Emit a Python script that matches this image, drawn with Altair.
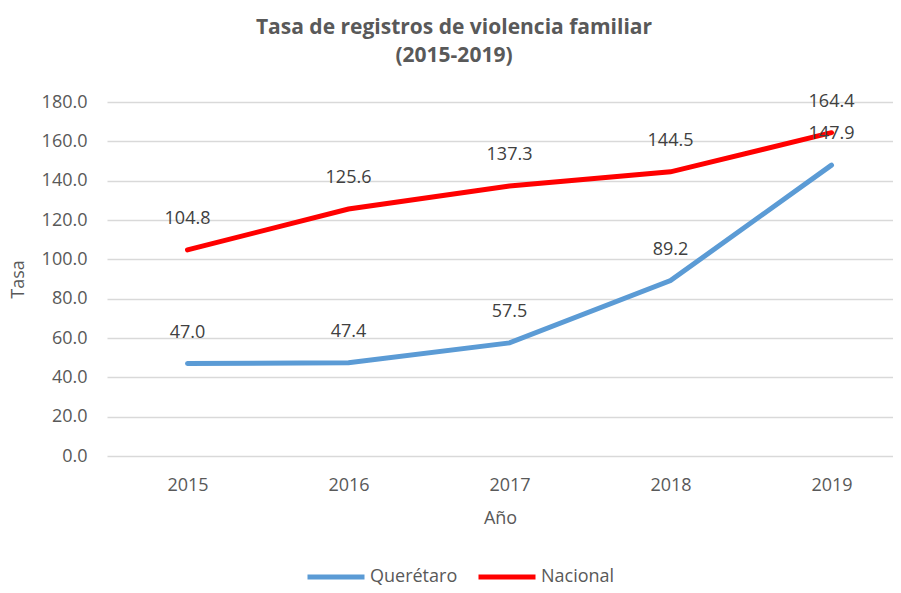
import altair as alt
import pandas as pd

years = [2015, 2016, 2017, 2018, 2019]
queretaro = [47.0, 47.4, 57.5, 89.2, 147.9]
nacional = [104.8, 125.6, 137.3, 144.5, 164.4]
series_names = ["Querétaro", "Nacional"]
series_colors = ["#5B9BD5", "#FF0000"]

rows = []
for name, vals in zip(series_names, [queretaro, nacional]):
    for yr, v in zip(years, vals):
        rows.append({"Año": yr, "Tasa": v, "Serie": name})
df = pd.DataFrame(rows)

FONT = "Open Sans"
GRAY = "#595959"
W = 786
STEP = 161.0

x = alt.X("Año:Q", scale=alt.Scale(domain=[2014.5, 2014.5 + W / STEP], nice=False, zero=False),
          axis=alt.Axis(values=years, format="d", title="Año", domain=False, ticks=False, grid=False,
                        labelPadding=20, titlePadding=15, labelFontSize=18,
                        titleFontSize=18, titleFontWeight="normal"))
y = alt.Y("Tasa:Q", scale=alt.Scale(domain=[0, 180], nice=False),
          axis=alt.Axis(values=list(range(0, 181, 20)), format=".1f", title="Tasa",
                        domain=False, ticks=False, labelPadding=20,
                        titlePadding=14, labelFontSize=18, titleFontSize=18,
                        titleFontWeight="normal", gridColor="#D9D9D9", gridWidth=1.5))
color = alt.Color("Serie:N", scale=alt.Scale(domain=series_names, range=series_colors),
                  legend=alt.Legend(title=None, orient="none", direction="horizontal",
                                    legendX=198, legendY=444, symbolType="stroke",
                                    symbolSize=3249, symbolStrokeWidth=5,
                                    labelFontSize=18, labelColor=GRAY, columnPadding=10,
                                    labelOffset=3, labelFont=FONT))

base = alt.Chart(df)
lines = base.mark_line(strokeWidth=5, strokeCap="round").encode(x=x, y=y, color=color)
labels = base.mark_text(dy=-31, fontSize=18, color="#404040", font=FONT).encode(
    x=x, y=y, text=alt.Text("Tasa:Q", format=".1f"))

chart = (lines + labels).properties(
    width=W, height=354,
    title=alt.Title(["Tasa de registros de violencia familiar", "(2015-2019)"],
                    fontSize=21, fontWeight="bold", color=GRAY, font=FONT,
                    anchor="middle", dx=-46, offset=27, lineHeight=28),
    autosize=alt.AutoSizeParams(type="none"),
    padding={"left": 99, "top": 94, "right": 0, "bottom": 129},
).configure_axis(
    labelColor=GRAY, titleColor=GRAY, labelFont=FONT, titleFont=FONT
).configure_view(stroke=None)

chart.save("out.html", embed_options={"renderer": "svg", "actions": False})
